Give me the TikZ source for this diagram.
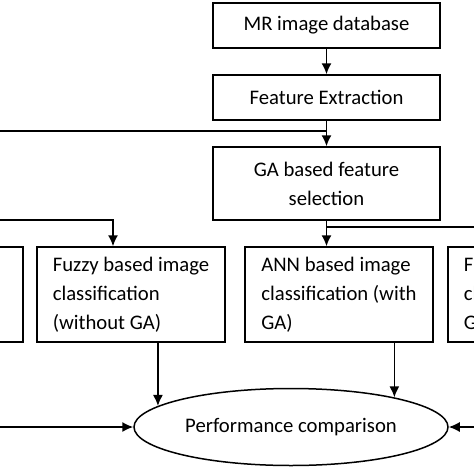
\documentclass[tikz,border=0pt]{standalone}
\usepackage{fontspec}
\setmainfont{Carlito}
\usetikzlibrary{positioning,arrows.meta,shapes}

\begin{document}
\begin{tikzpicture}[x=1pt,y=-1pt,>={Latex[length=11pt,width=10pt]},
    txt/.style={font=\fontsize{20.7}{29}\selectfont},
    blk/.style={draw,txt,line width=1.5pt,inner sep=0pt,minimum width=227pt,minimum height=45pt},
    cls/.style={blk,minimum width=188pt,minimum height=95pt,align=left},
    lnk/.style={line width=1.5pt}]
  \path[use as bounding box,clip] (0,0) rectangle (474,474);

  \node[blk] (mr) at (326.5,25.5) {MR image database};
  \node[blk] (fe) at (326.5,97.5) {Feature Extraction};
  \node[blk,minimum height=73pt,align=center] (ga) at (326.5,183.5) {GA based feature\\selection};

  \node[cls] (annw) at (-71,294.5) {};
  \node[cls] (fuz) at (131,294.5) {Fuzzy based image\\classification\\(without GA)};
  \node[cls] (ann) at (339,294.5) {ANN based image\\classification (with\\GA)};
  \node[cls] (fuzga) at (542,294.5) {Fuzzy based image\\classification (with\\GA)};

  \node[draw,ellipse,txt,line width=1.5pt,inner sep=0pt,minimum width=314pt,minimum height=77pt] (perf) at (291,427) {Performance comparison};

  \coordinate (w1) at (0,131);
  \coordinate (w2) at (0,220);
  \coordinate (k2) at (113,220);
  \coordinate (w3) at (0,427);
  \coordinate (e1) at (474,227);
  \coordinate (e3) at (474,427);

  \draw[->,lnk] (mr) -- (fe);
  \draw[->,lnk] (fe) -- (ga);
  \draw[lnk] (w1) -- (w1 -| fe.south);
  \draw[->,lnk] (ga.south) -- (ga.south |- ann.north);
  \draw[lnk] (ga.south |- e1) -- (e1);
  \draw[->,lnk] (w2) -- (k2) -- (k2 |- fuz.north);
  \draw[->,lnk] (perf.171 |- fuz.south) -- (perf.171);
  \draw[->,lnk] (perf.16 |- ann.south) -- (perf.16);
  \draw[->,lnk] (w3) -- (perf.west);
  \draw[->,lnk] (e3) -- (perf.east);
\end{tikzpicture}
\end{document}
